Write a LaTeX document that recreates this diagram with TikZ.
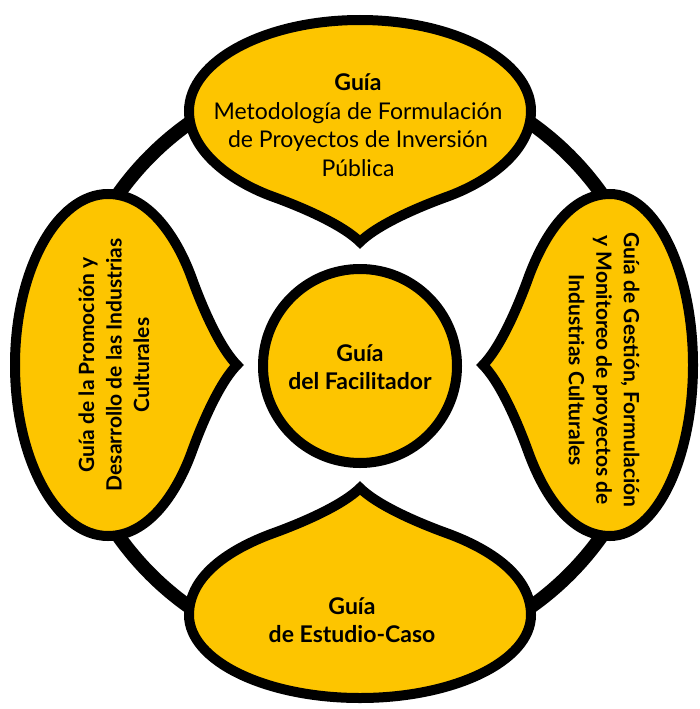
\documentclass[tikz,border=0pt]{standalone}
\usepackage{fontspec}
\setmainfont{Lato}
\definecolor{leafyellow}{RGB}{253,197,0}
\newcommand{\leafshape}[2]{%
  (0,-123) .. controls (15,-138) and (50,-155) .. (89,-169)
  .. controls (129,-184) and (171,-#1+40) .. (171,-#1)
  .. controls (171,-#1-0.552*#2) and (94.4,-#1-#2) .. (0,-#1-#2)
  .. controls (-94.4,-#1-#2) and (-171,-#1-0.552*#2) .. (-171,-#1)
  .. controls (-171,-#1+40) and (-129,-184) .. (-89,-169)
  .. controls (-50,-155) and (-15,-138) .. cycle}
\tikzset{
  leaf/.style={draw=black, fill=leafyellow, line width=10pt, miter limit=10},
  ringline/.style={draw=black, line width=14pt},
  hub/.style={circle, draw=black, fill=leafyellow, line width=10pt, minimum size=194pt, inner sep=0pt},
  lbl/.style={align=center, font=\fontsize{23}{28.5}\selectfont},
  blbl/.style={align=center, font=\fontsize{23}{28.5}\selectfont\bfseries},
  vlbl/.style={align=center, font=\fontsize{21}{27.5}\selectfont\bfseries},
}
\begin{document}
\begin{tikzpicture}[x=1pt,y=-1pt]
\useasboundingbox (0,0) rectangle (700,709);
\coordinate (C) at (360,365);
\draw[ringline] (C) circle[radius=296];
\begin{scope}[shift={(C)}]
  \path[leaf] \leafshape{254}{91};
\end{scope}
\begin{scope}[shift={(C)}, rotate=90]
  \path[leaf] \leafshape{252}{93};
\end{scope}
\begin{scope}[shift={(C)}, rotate=180]
  \path[leaf] \leafshape{250}{83};
\end{scope}
\begin{scope}[shift={(C)}, rotate=270]
  \path[leaf] \leafshape{250}{83};
\end{scope}
\node[hub] (hub) at (360,366) {};
\node[blbl] (hubtext) at (360,367) {Guía\\del Facilitador};
\node[lbl] (top) at (358,125) {\textbf{Guía}\\Metodología de Formulación\\de Proyectos de Inversión\\Pública};
\node[blbl] (bottom) at (352,620) {Guía\\de Estudio-Caso};
\node[vlbl, rotate=90] (left) at (114,365) {Guía de la Promoción y\\Desarrollo de las Industrias\\Culturales};
\node[vlbl, rotate=-90] (right) at (604,370) {Guía de Gestión, Formulación\\y Monitoreo de proyectos de\\Industrias Culturales};
\end{tikzpicture}
\end{document}
